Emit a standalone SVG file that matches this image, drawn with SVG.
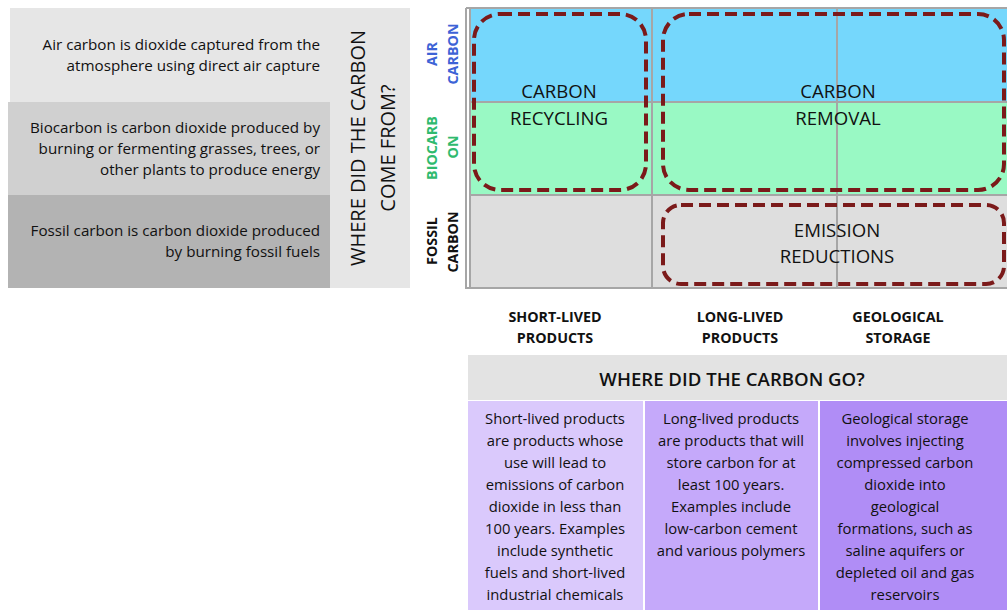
<svg xmlns="http://www.w3.org/2000/svg" width="1007" height="610" viewBox="0 0 1007 610">
<style>
text{font-family:"Open Sans","Liberation Sans",sans-serif;fill:#111111}
.desc{font-size:15.2px;text-anchor:end}
.pd{font-size:14.8px;text-anchor:middle}
.big{font-size:18.6px;text-anchor:middle}
.lbl{font-size:14.3px;font-weight:bold;text-anchor:middle}
.grid{stroke:#a6a6a6;stroke-width:2;fill:none}
.dash{fill:none;stroke:#7b1a1a;stroke-width:4;stroke-dasharray:12 6}
</style>
<rect width="1007" height="610" fill="#ffffff"/>
<g id="left-panel">
<rect x="10" y="8" width="400" height="280" fill="#e6e6e6"/>
<rect x="8" y="102" width="322" height="93" fill="#d0d0d0"/>
<rect x="8" y="195" width="322" height="93" fill="#b3b3b3"/>
<text class="desc" x="320" y="50">Air carbon is dioxide captured from the</text>
<text class="desc" x="320" y="71">atmosphere using direct air capture</text>
<text class="desc" x="320" y="133">Biocarbon is carbon dioxide produced by</text>
<text class="desc" x="320" y="154">burning or fermenting grasses, trees, or</text>
<text class="desc" x="320" y="175">other plants to produce energy</text>
<text class="desc" x="320" y="236">Fossil carbon is carbon dioxide produced</text>
<text class="desc" x="320" y="257">by burning fossil fuels</text>
<text transform="translate(365 148) rotate(-90)" style="font-size:20px;text-anchor:middle">WHERE DID THE CARBON</text>
<text transform="translate(395 148) rotate(-90)" style="font-size:20px;text-anchor:middle">COME FROM?</text>
</g>
<g id="grid">
<rect x="470" y="8" width="537" height="94" fill="#75d7fc"/>
<rect x="470" y="102" width="537" height="93" fill="#99f9c4"/>
<rect x="470" y="195" width="537" height="93" fill="#dedede"/>
<path class="grid" d="M466 8V289M470 8V288M466 8H1007M466 288H1007M652 8V288M837 8V288M470 102H1007M470 195H1007"/>
</g>
<g id="row-labels" style="font-size:14.3px;font-weight:bold">
<text transform="translate(437 54) rotate(-90)" style="text-anchor:middle;fill:#3d63d6">AIR</text>
<text transform="translate(458 54) rotate(-90)" style="text-anchor:middle;fill:#3d63d6">CARBON</text>
<text transform="translate(437 148) rotate(-90)" style="text-anchor:middle;fill:#2fba6e">BIOCARB</text>
<text transform="translate(458 147) rotate(-90)" style="text-anchor:middle;fill:#2fba6e">ON</text>
<text transform="translate(437 241) rotate(-90)" style="text-anchor:middle">FOSSIL</text>
<text transform="translate(458 242) rotate(-90)" style="text-anchor:middle">CARBON</text>
</g>
<g id="carbon-recycling">
<rect class="dash" x="474" y="14" width="172" height="176" rx="26"/>
<text class="big" x="559" y="98">CARBON</text>
<text class="big" x="559" y="125">RECYCLING</text>
</g>
<g id="carbon-removal">
<rect class="dash" x="663" y="14" width="341" height="176" rx="26"/>
<text class="big" x="838" y="98">CARBON</text>
<text class="big" x="838" y="125">REMOVAL</text>
</g>
<g id="emission-reductions">
<rect class="dash" x="663" y="205" width="341" height="79" rx="18"/>
<text class="big" x="837" y="237">EMISSION</text>
<text class="big" x="837" y="263">REDUCTIONS</text>
</g>
<g id="column-labels">
<text class="lbl" x="555" y="322">SHORT-LIVED</text>
<text class="lbl" x="555" y="343">PRODUCTS</text>
<text class="lbl" x="740" y="322">LONG-LIVED</text>
<text class="lbl" x="740" y="343">PRODUCTS</text>
<text class="lbl" x="898" y="322">GEOLOGICAL</text>
<text class="lbl" x="898" y="343">STORAGE</text>
</g>
<g id="go-header">
<rect x="468" y="355" width="539" height="45" fill="#e3e3e3"/>
<text x="732" y="386" style="font-size:18.6px;font-weight:600;text-anchor:middle">WHERE DID THE CARBON GO?</text>
</g>
<g id="short-lived">
<rect x="468" y="401" width="175" height="209" fill="#dac9fc"/>
<text class="pd" x="555"><tspan x="555" y="424">Short-lived products</tspan><tspan x="555" y="446">are products whose</tspan><tspan x="555" y="468">use will lead to</tspan><tspan x="555" y="490">emissions of carbon</tspan><tspan x="555" y="512">dioxide in less than</tspan><tspan x="555" y="534">100 years. Examples</tspan><tspan x="555" y="556">include synthetic</tspan><tspan x="555" y="578">fuels and short-lived</tspan><tspan x="555" y="600">industrial chemicals</tspan></text>
</g>
<g id="long-lived">
<rect x="645" y="401" width="173" height="209" fill="#c5a9fa"/>
<text class="pd" x="731"><tspan x="731" y="424">Long-lived products</tspan><tspan x="731" y="446">are products that will</tspan><tspan x="731" y="468">store carbon for at</tspan><tspan x="731" y="490">least 100 years.</tspan><tspan x="731" y="512">Examples include</tspan><tspan x="731" y="534">low-carbon cement</tspan><tspan x="731" y="556">and various polymers</tspan></text>
</g>
<g id="geological">
<rect x="820" y="401" width="187" height="209" fill="#b08df6"/>
<text class="pd" x="905"><tspan x="905" y="424">Geological storage</tspan><tspan x="905" y="446">involves injecting</tspan><tspan x="905" y="468">compressed carbon</tspan><tspan x="905" y="490">dioxide into</tspan><tspan x="905" y="512">geological</tspan><tspan x="905" y="534">formations, such as</tspan><tspan x="905" y="556">saline aquifers or</tspan><tspan x="905" y="578">depleted oil and gas</tspan><tspan x="905" y="600">reservoirs</tspan></text>
</g>
</svg>
